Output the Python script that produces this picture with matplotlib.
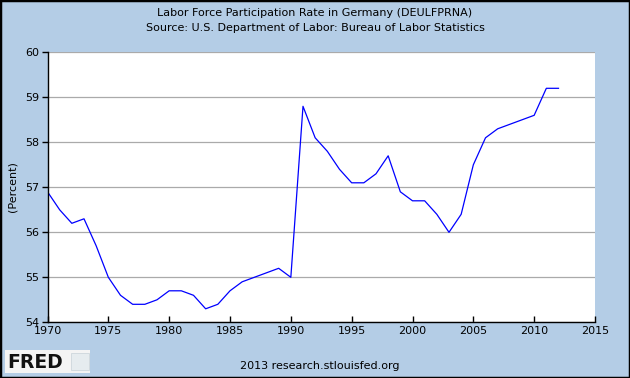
import numpy as np
import matplotlib.pyplot as plt
from matplotlib.patches import Rectangle

# Labor force participation rate in Germany, annual (percent)
years = list(range(1970, 2013))
rate = [56.9, 56.5, 56.2, 56.3, 55.7, 55.0, 54.6, 54.4, 54.4, 54.5,
        54.7, 54.7, 54.6, 54.3, 54.4, 54.7, 54.9, 55.0, 55.1, 55.2,
        55.0, 58.8, 58.1, 57.8, 57.4, 57.1, 57.1, 57.3, 57.7, 56.9,
        56.7, 56.7, 56.4, 56.0, 56.4, 57.5, 58.1, 58.3, 58.4, 58.5,
        58.6, 59.2, 59.2]
x_ticks = list(range(1970, 2016, 5))
y_ticks = [54, 55, 56, 57, 58, 59, 60]

bg = "#b4cde6"
fig = plt.figure(figsize=(6.3, 3.78), dpi=100, facecolor=bg)
ax = fig.add_axes([47.5 / 630, 55.7 / 378, 547.5 / 630, 270 / 378])
ax.set_facecolor("white")

ax.plot(years, rate, color="#0000ff", lw=0.9)

ax.set_xlim(1970, 2015)
ax.set_ylim(54, 60)
ax.set_xticks(x_ticks)
ax.set_yticks(y_ticks)
ax.yaxis.grid(True, color="#aaaaaa", lw=0.9)
ax.set_axisbelow(True)
for s in ["top", "right"]:
    ax.spines[s].set_visible(False)
for s in ["left", "bottom"]:
    ax.spines[s].set_linewidth(1.0)
ax.tick_params(axis="x", direction="in", length=4, width=1, labelsize=8, pad=3)
ax.tick_params(axis="y", direction="out", length=4, width=1, labelsize=8, pad=2)

fig.text(13 / 630, 1 - 187 / 378, "(Percent)", rotation=90,
         ha="center", va="center", fontsize=8)
fig.text(0.5, 1 - 13 / 378, "Labor Force Participation Rate in Germany (DEULFPRNA)",
         ha="center", va="center", fontsize=8)
fig.text(0.5, 1 - 28 / 378, "Source: U.S. Department of Labor: Bureau of Labor Statistics",
         ha="center", va="center", fontsize=8)
fig.text(320 / 630, 12 / 378, "2013 research.stlouisfed.org",
         ha="center", va="center", fontsize=8)

# FRED logo box
fig.patches.append(Rectangle((5 / 630, 5 / 378), 85 / 630, 23 / 378,
                             transform=fig.transFigure, facecolor="#f4f4f4",
                             edgecolor="none"))
fig.text(7 / 630, 16 / 378, "FRED", ha="left", va="center", fontsize=13.5,
         fontweight="heavy", color="#111111")
fig.patches.append(Rectangle((71 / 630, 8 / 378), 18 / 630, 17 / 378,
                             transform=fig.transFigure, facecolor="#e6ecef",
                             edgecolor="#c8d2d8", lw=0.5))

# border
fig.patches.append(Rectangle((0, 0), 1, 1, transform=fig.transFigure,
                             facecolor="none", edgecolor="black", lw=2.5))

fig.savefig("out.png", dpi=100, facecolor=bg)
